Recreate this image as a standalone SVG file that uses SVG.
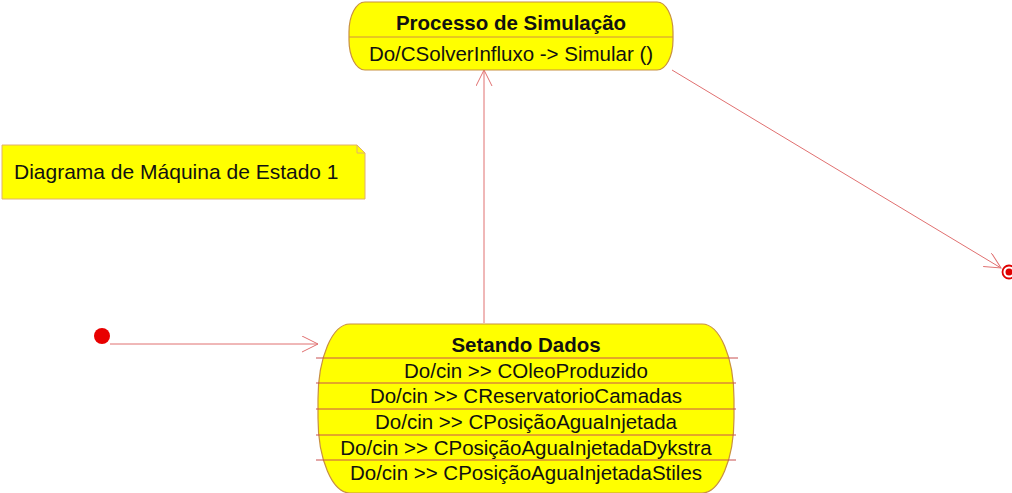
<svg xmlns="http://www.w3.org/2000/svg" width="1012" height="493" viewBox="0 0 1012 493">
<style>
.state{fill:#FFFF00;stroke:#C89040;stroke-width:1.2}
.div{stroke:#C85050;stroke-width:1}
.t{font-family:"Liberation Sans",Arial,sans-serif;font-size:20.5px;fill:#111;text-anchor:middle}
.b{font-weight:bold}
.conn{stroke:#E07070;stroke-width:1;fill:none}
</style>
<defs>
<marker id="open" markerWidth="20" markerHeight="20" refX="16" refY="8" orient="auto" markerUnits="userSpaceOnUse">
<path d="M0,0 L16,8 L0,16" fill="none" stroke="#E07070" stroke-width="1"/>
</marker>
</defs>
<rect width="1012" height="493" fill="#fff"/>
<g id="connectors">
<line class="conn" x1="110" y1="344" x2="318" y2="344" marker-end="url(#open)"/>
<line class="conn" x1="484" y1="323" x2="484" y2="70" marker-end="url(#open)"/>
<line class="conn" x1="672" y1="70" x2="1001" y2="268" marker-end="url(#open)"/>
</g>
<g id="note">
<path d="M2,145 H357 L365,153 V199 H2 Z" fill="#FFFF00" stroke="#E0B070" stroke-width="1"/>
<path d="M357,145 V153 H365" fill="none" stroke="#E0B070" stroke-width="1"/>
<text class="t" x="14" y="179" style="text-anchor:start;font-size:21px">Diagrama de Máquina de Estado 1</text>
</g>
<g id="processo">
<rect class="state" x="349" y="2" width="324" height="68" rx="16" ry="30"/>
<line class="div" x1="349" y1="37" x2="673" y2="37" style="stroke:#D09040"/>
<text class="t b" x="511" y="30">Processo de Simulação</text>
<text class="t" x="511" y="61">Do/CSolverInfluxo -&gt; Simular ()</text>
</g>
<g id="setando">
<rect class="state" x="318" y="324" width="416" height="169" rx="32" ry="75"/>
<line class="div" x1="316" y1="358" x2="738" y2="358"/>
<line class="div" x1="316" y1="383" x2="736" y2="383"/>
<line class="div" x1="316" y1="409" x2="736" y2="409"/>
<line class="div" x1="316" y1="435" x2="736" y2="435"/>
<line class="div" x1="316" y1="460" x2="736" y2="460"/>
<text class="t b" x="526" y="352">Setando Dados</text>
<text class="t" x="526" y="378">Do/cin &gt;&gt; COleoProduzido</text>
<text class="t" x="526" y="403">Do/cin &gt;&gt; CReservatorioCamadas</text>
<text class="t" x="526" y="429">Do/cin &gt;&gt; CPosiçãoAguaInjetada</text>
<text class="t" x="526" y="455">Do/cin &gt;&gt; CPosiçãoAguaInjetadaDykstra</text>
<text class="t" x="526" y="480">Do/cin &gt;&gt; CPosiçãoAguaInjetadaStiles</text>
</g>
<g id="initial">
<circle cx="102" cy="336" r="8" fill="#E80000"/>
</g>
<g id="final">
<circle cx="1009" cy="272" r="6.5" fill="#fff" stroke="#E00000" stroke-width="1.8"/>
<circle cx="1009" cy="272" r="3.5" fill="#E00000"/>
</g>
</svg>
